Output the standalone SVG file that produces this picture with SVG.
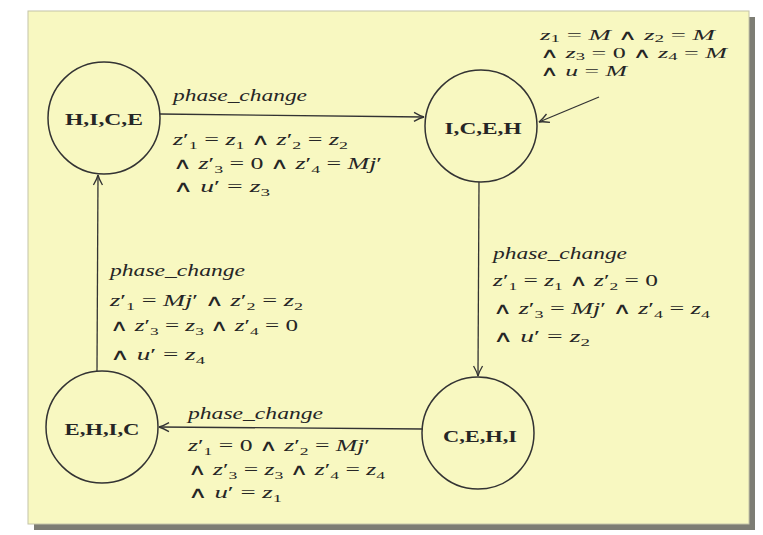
<svg xmlns="http://www.w3.org/2000/svg" width="763" height="535" viewBox="0 0 763 535">
<style>
.t{font-family:"Liberation Serif","DejaVu Serif",serif;font-size:16px;fill:#262626}
.s{font-size:14px}
.i{font-style:italic}
.b{font-size:11px}
.bs{font-size:10px}
.n{font-family:"Liberation Serif","DejaVu Serif",serif;font-weight:bold;font-size:16px;fill:#262626;text-anchor:middle}
.c{fill:none;stroke:#333;stroke-width:1.5}
.e{fill:none;stroke:#333;stroke-width:1.3;marker-end:url(#arr)}
</style>
<defs>
<marker id="arr" markerUnits="userSpaceOnUse" markerWidth="14" markerHeight="12" viewBox="-12 -6 14 12" refX="0" refY="0" orient="auto">
<path d="M-10,-4.5 Q-4,-1 0,0 Q-4,1 -10,4.5" fill="none" stroke="#333" stroke-width="1.3"/>
</marker>
</defs>
<rect x="34" y="17" width="721" height="513" fill="#7d7d74"/>
<rect x="28" y="11" width="721" height="513" fill="#f8f8c1" stroke="#c4c4a8" stroke-width="1"/>

<g id="connectors">
<g id="e-HICE-ICEH">
<path class="e" d="M160,114 L424,117"/>
<text class="t i" x="173" y="101" textLength="134" lengthAdjust="spacingAndGlyphs">phase_change</text>
<text class="t" x="173" y="145" textLength="175" lengthAdjust="spacingAndGlyphs"><tspan class="i">z</tspan>′<tspan class="b" dy="4">1</tspan><tspan dy="-4"> = </tspan><tspan class="i">z</tspan><tspan class="b" dy="4">1</tspan><tspan dy="-4"> ∧ </tspan><tspan class="i">z</tspan>′<tspan class="b" dy="4">2</tspan><tspan dy="-4"> = </tspan><tspan class="i">z</tspan><tspan class="b" dy="4">2</tspan></text>
<text class="t" x="173" y="169" textLength="209" lengthAdjust="spacingAndGlyphs">∧ <tspan class="i">z</tspan>′<tspan class="b" dy="4">3</tspan><tspan dy="-4"> = 0 ∧ </tspan><tspan class="i">z</tspan>′<tspan class="b" dy="4">4</tspan><tspan dy="-4"> = </tspan><tspan class="i">Mj</tspan>′</text>
<text class="t" x="173" y="192" textLength="97" lengthAdjust="spacingAndGlyphs">∧ <tspan class="i">u</tspan>′ = <tspan class="i">z</tspan><tspan class="b" dy="4">3</tspan></text>
</g>
<g id="e-ICEH-CEHI">
<path class="e" d="M479,182 L478,376"/>
<text class="t i" x="493" y="259" textLength="134" lengthAdjust="spacingAndGlyphs">phase_change</text>
<text class="t" x="493" y="286" textLength="165" lengthAdjust="spacingAndGlyphs"><tspan class="i">z</tspan>′<tspan class="b" dy="4">1</tspan><tspan dy="-4"> = </tspan><tspan class="i">z</tspan><tspan class="b" dy="4">1</tspan><tspan dy="-4"> ∧ </tspan><tspan class="i">z</tspan>′<tspan class="b" dy="4">2</tspan><tspan dy="-4"> = 0</tspan></text>
<text class="t" x="493" y="314" textLength="217" lengthAdjust="spacingAndGlyphs">∧ <tspan class="i">z</tspan>′<tspan class="b" dy="4">3</tspan><tspan dy="-4"> = </tspan><tspan class="i">Mj</tspan>′ ∧ <tspan class="i">z</tspan>′<tspan class="b" dy="4">4</tspan><tspan dy="-4"> = </tspan><tspan class="i">z</tspan><tspan class="b" dy="4">4</tspan></text>
<text class="t" x="493" y="342" textLength="97" lengthAdjust="spacingAndGlyphs">∧ <tspan class="i">u</tspan>′ = <tspan class="i">z</tspan><tspan class="b" dy="4">2</tspan></text>
</g>
<g id="e-CEHI-EHIC">
<path class="e" d="M423,429 L159,427"/>
<text class="t i" x="188" y="419" textLength="135" lengthAdjust="spacingAndGlyphs">phase_change</text>
<text class="t" x="188" y="451" textLength="182" lengthAdjust="spacingAndGlyphs"><tspan class="i">z</tspan>′<tspan class="b" dy="4">1</tspan><tspan dy="-4"> = 0 ∧ </tspan><tspan class="i">z</tspan>′<tspan class="b" dy="4">2</tspan><tspan dy="-4"> = </tspan><tspan class="i">Mj</tspan>′</text>
<text class="t" x="188" y="475" textLength="197" lengthAdjust="spacingAndGlyphs">∧ <tspan class="i">z</tspan>′<tspan class="b" dy="4">3</tspan><tspan dy="-4"> = </tspan><tspan class="i">z</tspan><tspan class="b" dy="4">3</tspan><tspan dy="-4"> ∧ </tspan><tspan class="i">z</tspan>′<tspan class="b" dy="4">4</tspan><tspan dy="-4"> = </tspan><tspan class="i">z</tspan><tspan class="b" dy="4">4</tspan></text>
<text class="t" x="188" y="498" textLength="94" lengthAdjust="spacingAndGlyphs">∧ <tspan class="i">u</tspan>′ = <tspan class="i">z</tspan><tspan class="b" dy="4">1</tspan></text>
</g>
<g id="e-EHIC-HICE">
<path class="e" d="M97,371 L98,175"/>
<text class="t i" x="110" y="276" textLength="135" lengthAdjust="spacingAndGlyphs">phase_change</text>
<text class="t" x="110" y="306" textLength="193" lengthAdjust="spacingAndGlyphs"><tspan class="i">z</tspan>′<tspan class="b" dy="4">1</tspan><tspan dy="-4"> = </tspan><tspan class="i">Mj</tspan>′ ∧ <tspan class="i">z</tspan>′<tspan class="b" dy="4">2</tspan><tspan dy="-4"> = </tspan><tspan class="i">z</tspan><tspan class="b" dy="4">2</tspan></text>
<text class="t" x="110" y="331" textLength="188" lengthAdjust="spacingAndGlyphs">∧ <tspan class="i">z</tspan>′<tspan class="b" dy="4">3</tspan><tspan dy="-4"> = </tspan><tspan class="i">z</tspan><tspan class="b" dy="4">3</tspan><tspan dy="-4"> ∧ </tspan><tspan class="i">z</tspan>′<tspan class="b" dy="4">4</tspan><tspan dy="-4"> = 0</tspan></text>
<text class="t" x="110" y="360" textLength="95" lengthAdjust="spacingAndGlyphs">∧ <tspan class="i">u</tspan>′ = <tspan class="i">z</tspan><tspan class="b" dy="4">4</tspan></text>
</g>
<g id="e-init">
<path class="e" d="M599,97 L539,122"/>
<text class="t s" x="540" y="40" textLength="175" lengthAdjust="spacingAndGlyphs"><tspan class="i">z</tspan><tspan class="bs" dy="2">1</tspan><tspan dy="-2"> = </tspan><tspan class="i">M</tspan> ∧ <tspan class="i">z</tspan><tspan class="bs" dy="2">2</tspan><tspan dy="-2"> = </tspan><tspan class="i">M</tspan></text>
<text class="t s" x="540" y="58" textLength="187" lengthAdjust="spacingAndGlyphs">∧ <tspan class="i">z</tspan><tspan class="bs" dy="2">3</tspan><tspan dy="-2"> = 0 ∧ </tspan><tspan class="i">z</tspan><tspan class="bs" dy="2">4</tspan><tspan dy="-2"> = </tspan><tspan class="i">M</tspan></text>
<text class="t s" x="540" y="76" textLength="87" lengthAdjust="spacingAndGlyphs">∧ <tspan class="i">u</tspan> = <tspan class="i">M</tspan></text>
</g>
</g>

<g id="node-HICE">
<circle class="c" cx="104" cy="118" r="56"/>
<text class="n" x="104" y="125" textLength="78" lengthAdjust="spacingAndGlyphs">H,I,C,E</text>
</g>
<g id="node-ICEH">
<circle class="c" cx="481" cy="126" r="56"/>
<text class="n" x="483" y="134" textLength="77" lengthAdjust="spacingAndGlyphs">I,C,E,H</text>
</g>
<g id="node-CEHI">
<circle class="c" cx="478" cy="433" r="56"/>
<text class="n" x="480" y="442" textLength="74" lengthAdjust="spacingAndGlyphs">C,E,H,I</text>
</g>
<g id="node-EHIC">
<circle class="c" cx="102" cy="427" r="56"/>
<text class="n" x="102" y="435" textLength="75" lengthAdjust="spacingAndGlyphs">E,H,I,C</text>
</g>
</svg>
